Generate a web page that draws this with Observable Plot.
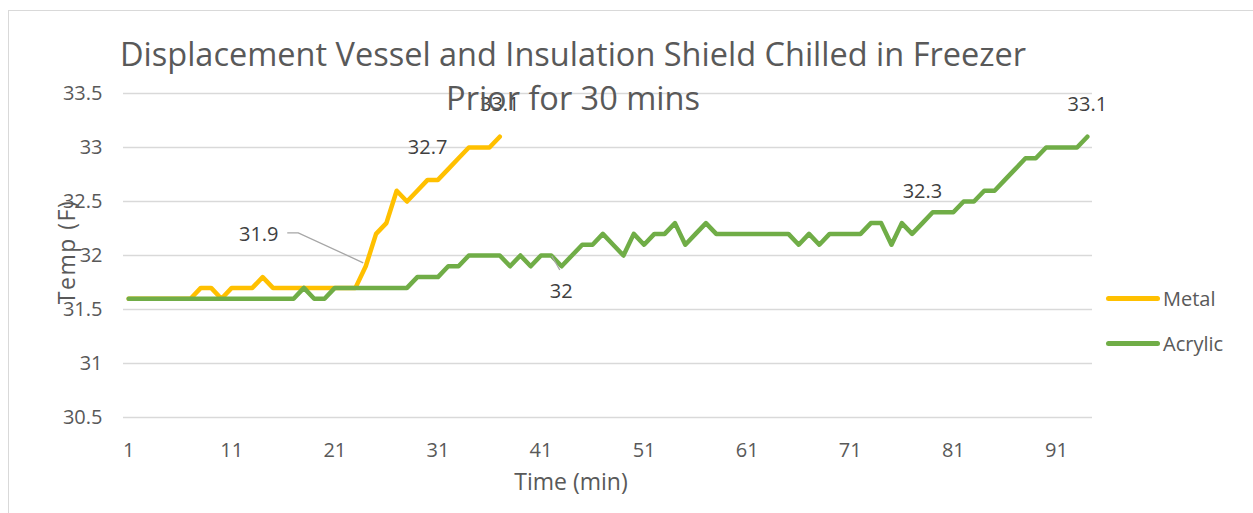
<!DOCTYPE html>
<html>
<head>
<meta charset="utf-8">
<script src="https://cdn.jsdelivr.net/npm/d3@7"></script>
<script src="https://cdn.jsdelivr.net/npm/@observablehq/plot@0.6"></script>
<style>
  html, body { margin: 0; padding: 0; background: #fff; overflow: hidden; }
  body { font-family: "Open Sans", sans-serif; }
  #wrap { position: relative; width: 1253px; height: 513px; overflow: hidden; }
  #border { position: absolute; left: 8px; top: 10px; width: 1300px; height: 600px; border: 1px solid #d9d9d9; box-sizing: border-box; }
  #chart { position: absolute; left: 0; top: 0; }
  #title { position: absolute; left: 0; top: 32px; width: 1146px; text-align: center; font-size: 32.5px; line-height: 44px; color: #595959; white-space: nowrap; }
  .axt { position: absolute; color: #595959; font-size: 23px; white-space: nowrap; }
  #xt { left: 471px; width: 200px; text-align: center; top: 465px; line-height: 32px; }
  #yt { left: 66px; top: 252px; transform: translate(-50%, -50%) rotate(-90deg); letter-spacing: 1.5px; line-height: 32px; }
  .leg { position: absolute; left: 1106px; height: 32px; display: flex; align-items: center; font-size: 20px; color: #595959; }
  .leg .sw { width: 54px; height: 5px; border-radius: 3px; margin-right: 3px; }
</style>
</head>
<body>
<div id="wrap">
  <div id="border"></div>
  <div id="chart"></div>
  <div id="title"></div>
  <div id="xt" class="axt"></div>
  <div id="yt" class="axt"></div>
  <div id="legend"></div>
</div>
<script>
// ---- data ----
const titleLines = ["Displacement Vessel and Insulation Shield Chilled in Freezer", "Prior for 30 mins"];
const xTitle = "Time (min)";
const yTitle = "Temp (F)";
const seriesNames = ["Metal", "Acrylic"];
const seriesColors = ["#FFC000", "#70AD47"];

const time = [1,2,3,4,5,6,7,8,9,10,11,12,13,14,15,16,17,18,19,20,21,22,23,24,25,26,27,28,29,30,
  31,32,33,34,35,36,37,38,39,40,41,42,43,44,45,46,47,48,49,50,51,52,53,54,55,56,57,58,59,60,
  61,62,63,64,65,66,67,68,69,70,71,72,73,74,75,76,77,78,79,80,81,82,83,84,85,86,87,88,89,90,
  91,92,93,94];

const metal = [31.6,31.6,31.6,31.6,31.6,31.6,31.6,31.7,31.7,31.6,31.7,31.7,31.7,31.8,31.7,31.7,31.7,31.7,31.7,31.7,
  31.7,31.7,31.7,31.9,32.2,32.3,32.6,32.5,32.6,32.7,32.7,32.8,32.9,33.0,33.0,33.0,33.1];

const acrylic = [31.6,31.6,31.6,31.6,31.6,31.6,31.6,31.6,31.6,31.6,31.6,31.6,31.6,31.6,31.6,31.6,31.6,31.7,31.6,31.6,
  31.7,31.7,31.7,31.7,31.7,31.7,31.7,31.7,31.8,31.8,31.8,31.9,31.9,32.0,32.0,32.0,32.0,31.9,32.0,31.9,
  32.0,32.0,31.9,32.0,32.1,32.1,32.2,32.1,32.0,32.2,32.1,32.2,32.2,32.3,32.1,32.2,32.3,32.2,32.2,32.2,
  32.2,32.2,32.2,32.2,32.2,32.1,32.2,32.1,32.2,32.2,32.2,32.2,32.3,32.3,32.1,32.3,32.2,32.3,32.4,32.4,
  32.4,32.5,32.5,32.6,32.6,32.7,32.8,32.9,32.9,33.0,33.0,33.0,33.0,33.1];

const xTicks = [1, 11, 21, 31, 41, 51, 61, 71, 81, 91];
const yTicks = [30.5, 31, 31.5, 32, 32.5, 33, 33.5];

// data label positions (time values where labels are shown)
const metalLabelTimes = [24, 30, 37];
const acrylicLabelTimes = [42, 78, 94];

// ---- build tables ----
const metalRows = metal.map((v, i) => ({t: time[i], v}));
const acrylicRows = acrylic.map((v, i) => ({t: time[i], v}));
const lbl = (rows, ts) => ts.map(t => rows.find(r => r.t === t));
const mLbl = lbl(metalRows, metalLabelTimes);
const aLbl = lbl(acrylicRows, acrylicLabelTimes);
const fmt = v => String(+v.toFixed(1));

const aboveLabels = [mLbl[1], mLbl[2], aLbl[1], aLbl[2]];
const leftLabel = [mLbl[0]];
const belowLabel = [aLbl[0]];

const font = '"Open Sans", sans-serif';
const chart = Plot.plot({
  width: 1253,
  height: 513,
  marginLeft: 123,
  marginRight: 161,
  marginTop: 93,
  marginBottom: 96,
  style: {fontFamily: font, fontSize: "20px", color: "#595959", background: "transparent", overflow: "visible"},
  x: {domain: [0.5, 94.5], ticks: xTicks, tickSize: 0, tickPadding: 25, label: null, tickFormat: d => String(d)},
  y: {domain: [30.5, 33.5], ticks: yTicks, tickSize: 0, tickPadding: 21, label: null, tickFormat: d => String(d)},
  marks: [
    Plot.gridY(yTicks, {stroke: "#d9d9d9", strokeOpacity: 1, strokeWidth: 1.4}),
    Plot.line(metalRows, {x: "t", y: "v", stroke: seriesColors[0], strokeWidth: 4.5, strokeLinejoin: "round", strokeLinecap: "round"}),
    Plot.line(acrylicRows, {x: "t", y: "v", stroke: seriesColors[1], strokeWidth: 4.5, strokeLinejoin: "round", strokeLinecap: "round"}),
    Plot.text(aboveLabels, {x: "t", y: "v", text: d => fmt(d.v), dy: -32, fill: "#404040", fontSize: 20}),
    Plot.text(leftLabel, {x: "t", y: "v", text: d => fmt(d.v), dx: -107, dy: -32, fill: "#404040", fontSize: 20}),
    Plot.text(belowLabel, {x: "t", y: "v", text: d => fmt(d.v), dx: 10, dy: 36, fill: "#404040", fontSize: 20})
  ]
});
document.getElementById("chart").appendChild(chart);

// leader lines, anchored at data points through the plot's scales
const sx = chart.scale("x"), sy = chart.scale("y");
const svg = d3.select(chart);
const g = svg.append("g").attr("fill", "none").attr("stroke", "#a6a6a6").attr("stroke-width", 1.3);
{
  const p = mLbl[0];
  const px = sx.apply(p.t), py = sy.apply(p.v);
  g.append("path").attr("d", `M${px - 2},${py - 3}L${px - 67},${py - 33}L${px - 78},${py - 33}`);
}
{
  const p = aLbl[0];
  const px = sx.apply(p.t), py = sy.apply(p.v);
  g.append("path").attr("d", `M${px + 1},${py + 1}L${px + 9},${py + 15}`);
}

// titles
document.getElementById("title").innerHTML = titleLines.map(s => `<div>${s}</div>`).join("");
document.getElementById("xt").textContent = xTitle;
document.getElementById("yt").textContent = yTitle;

// legend
const legend = document.getElementById("legend");
const legendTops = [282, 327];
seriesNames.forEach((name, i) => {
  const d = document.createElement("div");
  d.className = "leg";
  d.style.top = legendTops[i] + "px";
  d.innerHTML = `<div class="sw" style="background:${seriesColors[i]}"></div><span>${name}</span>`;
  legend.appendChild(d);
});
</script>
</body>
</html>
